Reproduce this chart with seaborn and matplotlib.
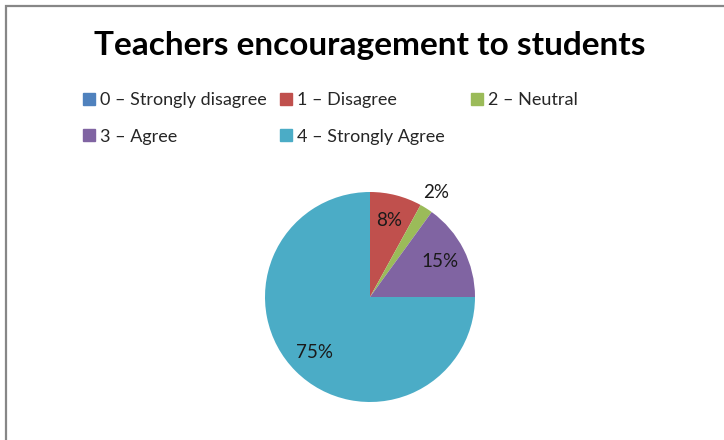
import matplotlib
matplotlib.use('Agg')
import matplotlib.pyplot as plt
import seaborn as sns
from matplotlib.patches import Rectangle, Patch
import numpy as np

categories = ['0 – Strongly disagree', '1 – Disagree', '2 – Neutral',
              '3 – Agree', '4 – Strongly Agree']
values = [0, 8, 2, 15, 75]
colors = ['#4F81BD', '#C0504D', '#9BBB59', '#8064A2', '#4BACC6']
title = 'Teachers encouragement to students'

sns.set_theme(style='white')
plt.rcParams['font.family'] = ['Lato', 'DejaVu Sans']

W, H = 724, 440
fig = plt.figure(figsize=(W / 100, H / 100), dpi=100)

# chart border (only left and top visible in crop)
fig.patches.append(Rectangle((6 / W, -0.1), 1.2, 1 - 6 / H + 0.1,
                             transform=fig.transFigure, fill=False,
                             edgecolor='#878787', linewidth=1.6))

fig.text(370 / W, 1 - 46 / H, title, ha='center', va='center',
         fontsize=24, fontweight='bold', color='black')

# pie
cx, cy, r = 370, 297, 105
ax = fig.add_axes([(cx - r) / W, (H - cy - r) / H, 2 * r / W, 2 * r / H])
sns.set_palette(colors)
wedges, texts = ax.pie(values, colors=colors, startangle=90, counterclock=False,
                       wedgeprops=dict(linewidth=0))
ax.set_xlim(-1, 1)
ax.set_ylim(-1, 1)
ax.set_aspect('equal')
ax.axis('off')

total = sum(values)
for w, v in zip(wedges, values):
    if v == 0:
        continue
    ang = np.deg2rad((w.theta1 + w.theta2) / 2)
    d = 1.18 if v / total < 0.05 else 0.75
    ax.text(d * np.cos(ang), d * np.sin(ang), '%d%%' % round(100 * v / total),
            ha='center', va='center', fontsize=13.5, color='#1a1a1a')

# legend laid out in grid like Excel
order = [[0, 3], [1, 4], [2]]
col_x = [83, 280, 471]
for xs, idx in zip(col_x, order):
    handles = [Patch(color=colors[i], label=categories[i]) for i in idx]
    fig.legend(handles=handles, loc='upper left',
               bbox_to_anchor=(xs / W, 1 - 92 / H), frameon=False,
               fontsize=13, handlelength=0.65, handleheight=0.65,
               handletextpad=0.3, labelspacing=1.15, borderpad=0,
               borderaxespad=0)

fig.savefig('out.png', dpi=100)
